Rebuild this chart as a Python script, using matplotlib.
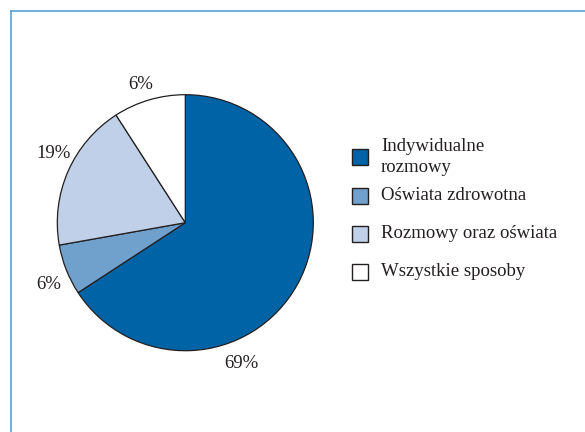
import matplotlib.pyplot as plt
from matplotlib.patches import Rectangle
from matplotlib.lines import Line2D

categories = ["Indywidualne\nrozmowy", "Oświata zdrowotna",
              "Rozmowy oraz oświata", "Wszystkie sposoby"]
# slice sizes as drawn in the picture, and the printed labels
shares = [65.8, 6.4, 18.7, 9.1]
pct_labels = ["69%", "6%", "19%", "6%"]
colors = ["#0063A6", "#70A0CC", "#BFD0E8", "#FFFFFF"]

# label positions in pie radius units
label_xy = [(0.44, -1.10), (-1.07, -0.48), (-1.03, 0.54), (-0.35, 1.08)]
legend_y = [157, 196, 234, 272]  # pixel rows of legend entries

W, H = 585, 432
plt.rcParams["font.family"] = ["Liberation Serif", "DejaVu Serif"]
edge = "#231F20"

fig = plt.figure(figsize=(W / 100, H / 100), dpi=100)
cx, cy, r = 185.3, 222.7, 128
ax = fig.add_axes([(cx - r) / W, (H - cy - r) / H, 2 * r / W, 2 * r / H])
ax.pie(shares, colors=colors, startangle=90, counterclock=False, radius=1,
       wedgeprops=dict(edgecolor=edge, linewidth=0.9))
ax.set_xlim(-1, 1)
ax.set_ylim(-1, 1)
ax.set_aspect("equal")
ax.axis("off")
for (x, y), t in zip(label_xy, pct_labels):
    ax.text(x, y, t, ha="center", va="center", fontsize=13.5, color="#231F20")

# legend drawn by hand
for name, col, y in zip(categories, colors, legend_y):
    fig.add_artist(Rectangle((352 / W, 1 - (y + 8) / H), 16 / W, 16 / H,
                             facecolor=col, edgecolor=edge, linewidth=1,
                             transform=fig.transFigure))
    fig.text(381 / W, 1 - y / H, name, ha="left", va="center",
             fontsize=13.5, linespacing=1.25, color="#231F20")

# frame lines on top and left
fig.add_artist(Line2D([10.5 / W, 1], [1 - 11 / H, 1 - 11 / H],
                      color="#5BA0D0", linewidth=1.2))
fig.add_artist(Line2D([10.5 / W, 10.5 / W], [0, 1 - 11 / H],
                      color="#5BA0D0", linewidth=1.2))

fig.savefig("out.png", dpi=100)
